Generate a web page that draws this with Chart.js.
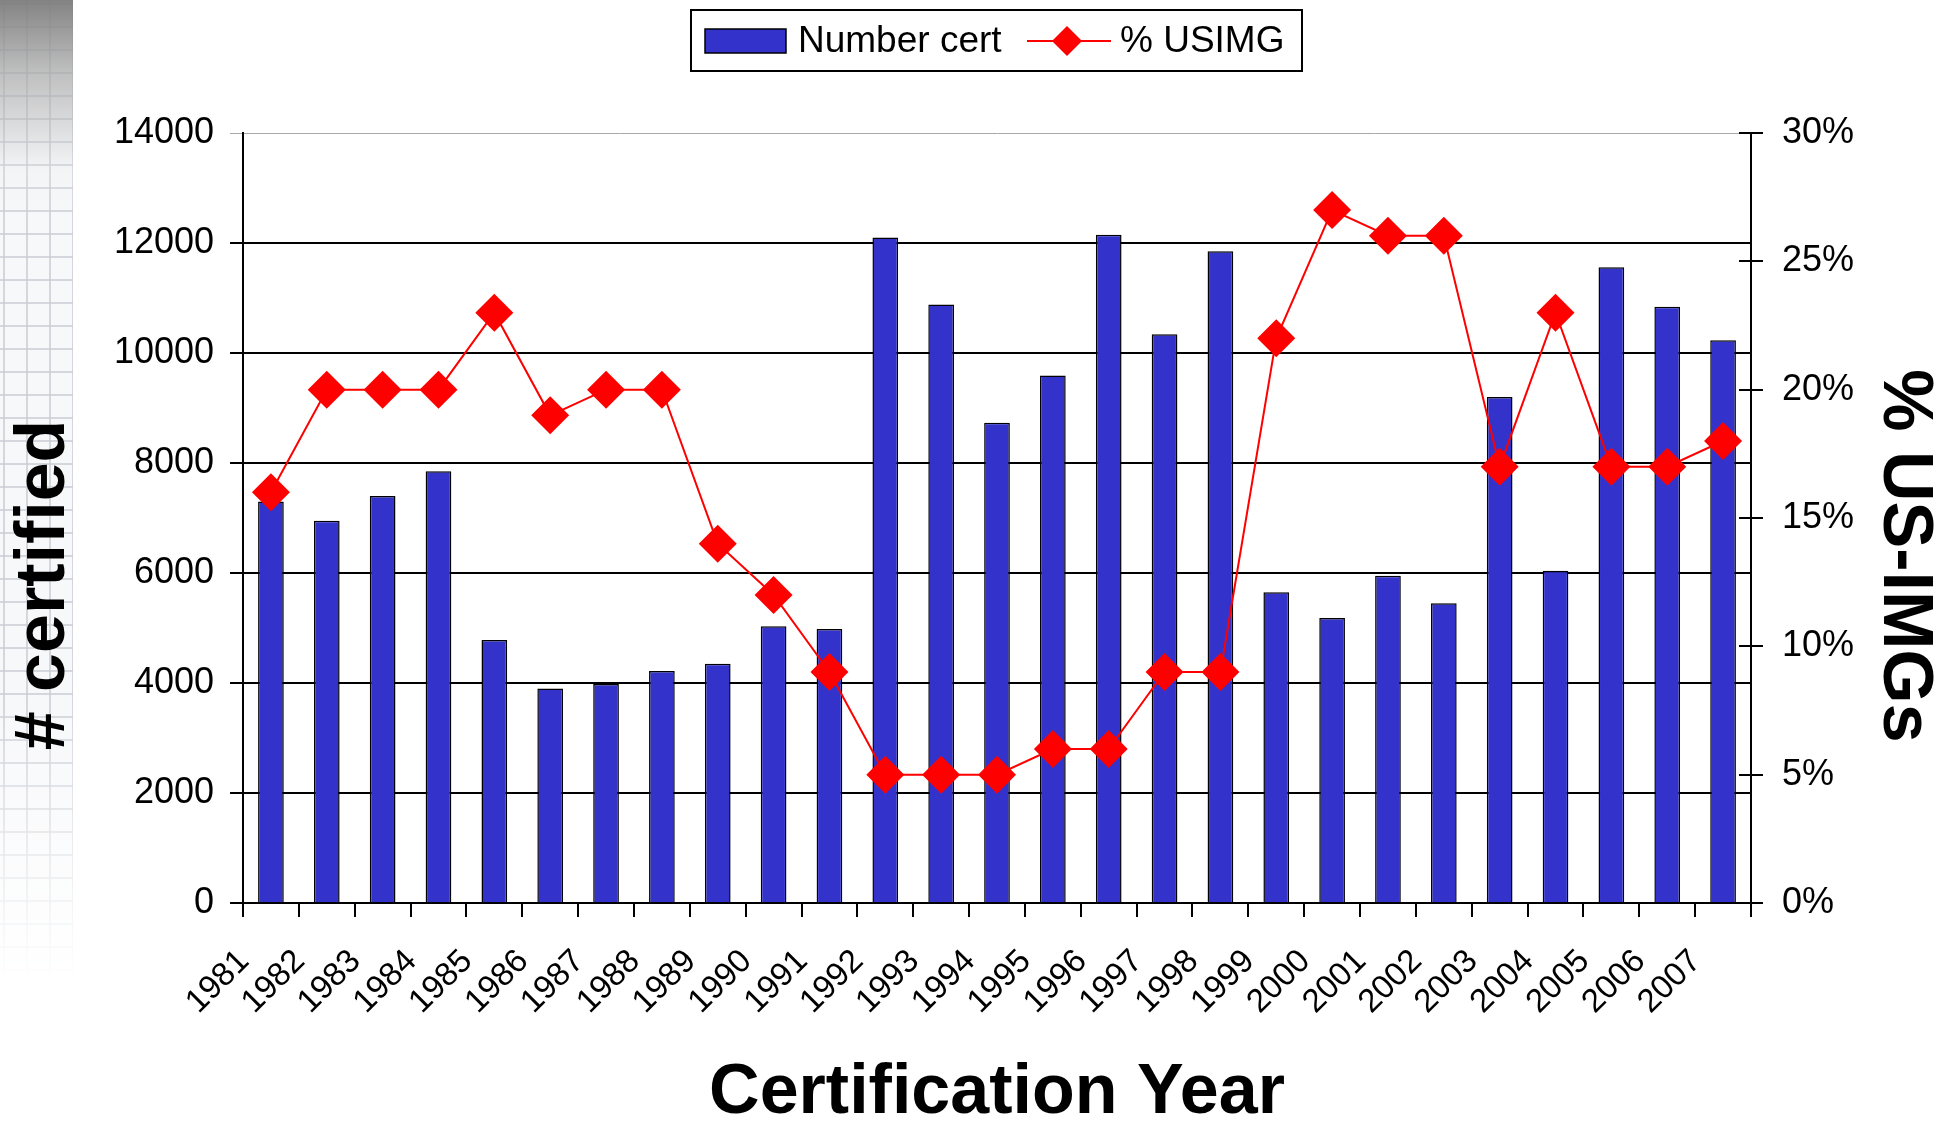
<!DOCTYPE html>
<html>
<head>
<meta charset="utf-8">
<title>Certification Year</title>
<script src="https://cdn.jsdelivr.net/npm/chart.js@4.4.0/dist/chart.umd.min.js"></script>
<style>
html, body { margin: 0; padding: 0; background: #fff; width: 1950px; height: 1123px; overflow: hidden; }
#deco {
    position: absolute; left: 0; top: 0; width: 73px; height: 980px;
    background:
        linear-gradient(to bottom, rgba(125,125,125,0.95) 0px, rgba(165,165,165,0.7) 70px, rgba(230,230,230,0.2) 170px, rgba(255,255,255,0) 220px),
        repeating-linear-gradient(to right, rgba(255,255,255,0) 0px, rgba(255,255,255,0) 3px, rgba(200,205,212,0.75) 3px, rgba(200,205,212,0.75) 5px, rgba(255,255,255,0) 5px, rgba(255,255,255,0) 23px),
        repeating-linear-gradient(to bottom, rgba(255,255,255,0) 0px, rgba(255,255,255,0) 3px, rgba(200,205,212,0.75) 3px, rgba(200,205,212,0.75) 5px, rgba(255,255,255,0) 5px, rgba(255,255,255,0) 23px),
        #f7f8fa;
    -webkit-mask-image: linear-gradient(to bottom, #000 0px, #000 700px, rgba(0,0,0,0) 980px);
    mask-image: linear-gradient(to bottom, #000 0px, #000 700px, rgba(0,0,0,0) 980px);
}
#chart { position: absolute; left: 0; top: 0; }
</style>
</head>
<body>
<div id="deco"></div>
<canvas id="chart" width="1950" height="1123"></canvas>
<script>
// data
var years = ["1981", "1982", "1983", "1984", "1985", "1986", "1987", "1988", "1989", "1990",
    "1991", "1992", "1993", "1994", "1995", "1996", "1997", "1998", "1999", "2000",
    "2001", "2002", "2003", "2004", "2005", "2006", "2007"];
var numberCert = [7300, 6950, 7400, 7850, 4780, 3900, 3980, 4220, 4350, 5030,
    4980, 12100, 10880, 8730, 9590, 12150, 10340, 11850, 5650, 5180,
    5950, 5450, 9200, 6040, 11560, 10840, 10230];
var pctUSIMG = [16, 20, 20, 20, 23, 19, 20, 20, 14, 12,
    9, 5, 5, 5, 6, 6, 9, 9, 22, 27,
    26, 26, 17, 23, 17, 17, 18];

var leftMax = 14000, leftStep = 2000;
var rightMax = 30, rightStep = 5;

var FONT = "'Liberation Sans', Arial, sans-serif";

var extrasPlugin = {
    id: "extras",
    afterDraw: function (chart) {
        var c = chart.ctx;
        var area = chart.chartArea;
        c.save();

        // inner half of the right axis ticks
        var s = chart.scales.y1;
        c.strokeStyle = "#000";
        c.lineWidth = 2;
        s.ticks.forEach(function (t) {
            var yy = Math.round(s.getPixelForValue(t.value));
            c.beginPath();
            c.moveTo(area.right - 12, yy);
            c.lineTo(area.right, yy);
            c.stroke();
        });

        // legend
        c.lineWidth = 2;
        c.strokeStyle = "#000";
        c.strokeRect(691, 10, 611, 61);
        c.fillStyle = "#3333cc";
        c.fillRect(705, 29, 81, 24);
        c.lineWidth = 1.5;
        c.strokeRect(705, 29, 81, 24);
        c.fillStyle = "#000";
        c.font = "37px " + FONT;
        c.textBaseline = "middle";
        c.textAlign = "left";
        c.fillText("Number cert", 798, 42);
        c.strokeStyle = "#ff0000";
        c.lineWidth = 2;
        c.beginPath();
        c.moveTo(1027, 41);
        c.lineTo(1111, 41);
        c.stroke();
        c.fillStyle = "#ff0000";
        c.beginPath();
        c.moveTo(1067 - 15, 41);
        c.lineTo(1067, 41 - 15);
        c.lineTo(1067 + 15, 41);
        c.lineTo(1067, 41 + 15);
        c.closePath();
        c.fill();
        c.fillStyle = "#000";
        c.fillText("% USIMG", 1120, 42);

        // axis titles
        c.font = "bold 70px " + FONT;
        c.textAlign = "center";
        c.textBaseline = "middle";
        c.fillText("Certification Year", (area.left + area.right) / 2, 1094);

        c.save();
        c.translate(45, 585);
        c.rotate(-Math.PI / 2);
        c.fillText("# certified", 0, 0);
        c.restore();

        c.save();
        c.translate(1903, 556);
        c.rotate(Math.PI / 2);
        c.fillText("% US-IMGs", 0, 0);
        c.restore();

        c.restore();
    }
};

var ctx1 = document.getElementById("chart").getContext("2d");
var myChart = new Chart(ctx1, {
    type: 'bar',
    data: {
        labels: years,
        datasets: [{
            type: 'line',
            label: "% USIMG",
            data: pctUSIMG,
            yAxisID: 'y1',
            borderColor: "#ff0000",
            backgroundColor: "#ff0000",
            borderWidth: 2,
            pointStyle: 'rectRot',
            pointRadius: 19,
            pointHoverRadius: 19,
            pointBorderWidth: 0,
            tension: 0,
            clip: false,
            order: 0
        }, {
            type: 'bar',
            label: "Number cert",
            data: numberCert,
            yAxisID: 'y',
            backgroundColor: "#3333cc",
            borderColor: "#000",
            borderWidth: 1.5,
            barPercentage: 0.46,
            categoryPercentage: 1,
            order: 1
        }]
    },
    options: {
        responsive: false,
        animation: false,
        devicePixelRatio: 1,
        layout: { padding: { top: 133, left: 0, right: 0, bottom: 0 } },
        plugins: {
            legend: { display: false },
            tooltip: { enabled: false }
        },
        scales: {
            x: {
                offset: true,
                grid: { drawOnChartArea: false, color: "#000", lineWidth: 2, tickLength: 14, offset: true },
                border: { color: "#000", width: 2 },
                ticks: {
                    autoSkip: false, maxRotation: 45, minRotation: 45,
                    color: "#000", font: { family: FONT, size: 33 },
                    padding: 25, labelOffset: -27
                },
                afterFit: function (scale) { scale.height = 220; }
            },
            y: {
                position: 'left',
                min: 0, max: leftMax,
                ticks: {
                    stepSize: leftStep, color: "#000", padding: 16,
                    font: { family: FONT, size: 36 },
                    callback: function (v) { return String(v); }
                },
                grid: {
                    color: function (c) { return c.tick && c.tick.value === leftMax ? "#a8a8a8" : "#000"; },
                    lineWidth: function (c) { return c.tick && c.tick.value === leftMax ? 1 : 2; },
                    tickLength: 13
                },
                border: { color: "#000", width: 2 },
                afterFit: function (scale) { scale.width = 243; }
            },
            y1: {
                position: 'right',
                min: 0, max: rightMax,
                ticks: {
                    stepSize: rightStep, color: "#000", padding: 19,
                    font: { family: FONT, size: 36 },
                    callback: function (v) { return v + "%"; }
                },
                grid: { drawOnChartArea: false, color: "#000", lineWidth: 2, tickLength: 12 },
                border: { color: "#000", width: 2 },
                afterFit: function (scale) { scale.width = 199; }
            }
        }
    },
    plugins: [extrasPlugin]
});
</script>
</body>
</html>
